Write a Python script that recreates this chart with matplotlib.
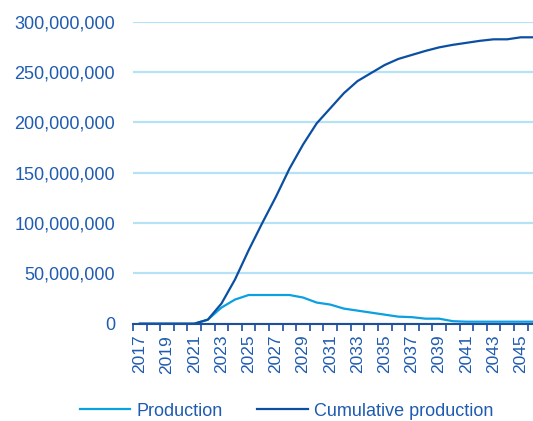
import matplotlib.pyplot as plt
from matplotlib.ticker import FuncFormatter, MultipleLocator

plt.rcParams['font.family'] = ['Liberation Sans', 'DejaVu Sans']

years = list(range(2017, 2047))
production = [0, 0, 0, 0, 0, 4e6, 16e6, 24e6, 28.5e6, 28.5e6, 28.5e6, 28.5e6,
              26e6, 21e6, 19e6, 15e6, 13e6, 11e6, 9e6, 7e6, 6.5e6, 5e6, 5e6,
              2.5e6, 2e6, 2e6, 2e6, 2e6, 2e6, 2e6]
cumulative = [0, 0, 0, 0, 0, 4e6, 20e6, 44e6, 73e6, 100e6, 126e6, 154e6,
              178e6, 199e6, 214e6, 229e6, 241e6, 249e6, 257e6, 263e6, 267e6,
              271e6, 274.5e6, 277e6, 279e6, 281e6, 282.5e6, 282.5e6, 284.5e6, 284.5e6]
tick_years = list(range(2017, 2047, 2))

text_col = '#1f5bb0'
axis_col = '#1f4f9c'

fig = plt.figure(figsize=(5.33, 4.21), dpi=100)
ax = fig.add_axes([133 / 533, 1 - 323.7 / 421, 400 / 533, (323.7 - 21.7) / 421])

ax.plot(years, production, color='#0aa0e2', lw=1.6, label='Production')
ax.plot(years, cumulative, color='#0b4fa2', lw=1.6, label='Cumulative production')

ax.set_ylim(0, 300e6)
ax.set_xlim(2016.5, 2045.9)
ax.yaxis.set_major_locator(MultipleLocator(50e6))
ax.yaxis.set_major_formatter(FuncFormatter(lambda v, p: f'{int(v):,}'))
ax.grid(axis='y', color='#b5e2f4', lw=1.6)
ax.set_axisbelow(True)

# labels at year centres, tick marks on the boundaries between years
ax.set_xticks(tick_years)
ax.set_xticklabels([str(y) for y in tick_years], rotation=90)
ax.set_xticks([y - 0.5 for y in years], minor=True)
ax.tick_params(axis='x', which='major', length=0, pad=8, labelsize=12.5, labelcolor=text_col)
ax.tick_params(axis='x', which='minor', length=5, width=1.2, color=axis_col)
ax.tick_params(axis='y', length=0, pad=13, labelsize=13, labelcolor=text_col)

for side in ['top', 'right', 'left']:
    ax.spines[side].set_visible(False)
ax.spines['bottom'].set_color(axis_col)
ax.spines['bottom'].set_linewidth(1.5)

fig.legend(loc='center', bbox_to_anchor=(0.538, 1 - 411 / 421), ncol=2, frameon=False,
           fontsize=13, labelcolor=text_col, handlelength=2.8, columnspacing=1.9,
           handletextpad=0.35, borderpad=0)

fig.savefig('out.png', dpi=100)
